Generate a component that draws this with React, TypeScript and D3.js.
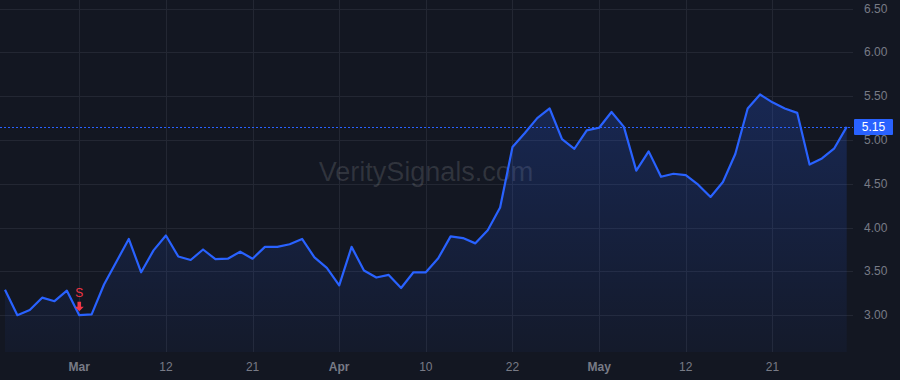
import React from "react";
import * as d3 from "d3";

const W = 900;
const H = 380;

const prices: number[] = [
  3.29, 3.0, 3.06, 3.2, 3.16, 3.28, 3.0, 3.01, 3.35, 3.61,
  3.87, 3.49, 3.74, 3.91, 3.67, 3.63, 3.75, 3.64, 3.645, 3.725,
  3.645, 3.78, 3.78, 3.81, 3.87, 3.66, 3.54, 3.34, 3.78, 3.51,
  3.43, 3.46, 3.31, 3.49, 3.49, 3.65, 3.9, 3.88, 3.82, 3.97,
  4.23, 4.92, 5.08, 5.25, 5.36, 5.01, 4.9, 5.11, 5.14, 5.32,
  5.15, 4.65, 4.87, 4.58, 4.615, 4.6, 4.49, 4.35, 4.52, 4.84,
  5.36, 5.52, 5.43, 5.36, 5.31, 4.72, 4.79, 4.905, 5.15,
];

const xTickIndex: number[] = [6, 13, 20, 27, 34, 41, 48, 55, 62];
const xTickLabels: string[] = ["Mar", "12", "21", "Apr", "10", "22", "May", "12", "21"];
const xTickBold: boolean[] = [true, false, false, true, false, false, true, false, false];

const yTicks: number[] = [3.0, 3.5, 4.0, 4.5, 5.0, 5.5, 6.0, 6.5];

const signalIndex: number[] = [6];
const signalLabels: string[] = ["S"];

const lastPrice = prices[prices.length - 1];

export default function App() {
  const plotRight = 853;
  const plotBottom = 352;
  const x = d3.scaleLinear().domain([0, prices.length - 1]).range([5, 846.7]);
  const y = d3.scaleLinear().domain([3, 6.5]).range([315.2, 8.6]);

  const line = d3
    .line<number>()
    .x((_, i) => x(i))
    .y((d) => y(d));
  const area = d3
    .area<number>()
    .x((_, i) => x(i))
    .y0(plotBottom)
    .y1((d) => y(d));

  const font = "'Liberation Sans', Arial, sans-serif";
  const minY = y(d3.max(prices) as number);

  return (
    <svg
      width={W}
      height={H}
      style={{ position: "absolute", left: 0, top: 0, display: "block" }}
    >
      <defs>
        <linearGradient id="fillGrad" gradientUnits="userSpaceOnUse" x1="0" y1={minY} x2="0" y2={plotBottom}>
          <stop offset="0%" stopColor="#2962ff" stopOpacity={0.22} />
          <stop offset="100%" stopColor="#2962ff" stopOpacity={0.04} />
        </linearGradient>
      </defs>
      <rect x={0} y={0} width={W} height={H} fill="#131722" />
      {/* grid */}
      {yTicks.map((t) => (
        <line key={"gy" + t} x1={0} x2={plotRight} y1={Math.round(y(t)) + 0.5} y2={Math.round(y(t)) + 0.5} stroke="#232733" strokeWidth={1} />
      ))}
      {xTickIndex.map((ti) => (
        <line key={"gx" + ti} x1={Math.round(x(ti)) + 0.5} x2={Math.round(x(ti)) + 0.5} y1={0} y2={plotBottom} stroke="#232733" strokeWidth={1} />
      ))}
      {/* watermark */}
      <text x={426} y={181} textAnchor="middle" fontFamily={font} fontSize={27} fill="#ffffff" fillOpacity={0.13}>
        VeritySignals.com
      </text>
      {/* area & line */}
      <path d={area(prices) || ""} fill="url(#fillGrad)" />
      <path d={line(prices) || ""} fill="none" stroke="#2962ff" strokeWidth={2.2} strokeLinejoin="round" />
      {/* last price line */}
      <line x1={0} x2={plotRight} y1={Math.round(y(lastPrice)) + 0.5} y2={Math.round(y(lastPrice)) + 0.5} stroke="#2962ff" strokeWidth={1} strokeDasharray="2 2" />
      {/* signal markers */}
      {signalIndex.map((si, k) => {
        const cx = x(si);
        const top = y(prices[si]) - 8.5;
        return (
          <g key={"s" + si}>
            <text x={cx} y={top - 9.5} textAnchor="middle" fontFamily={font} fontSize={12} fill="#f23645">
              {signalLabels[k]}
            </text>
            <path
              d={`M${cx - 1.8},${top - 5} L${cx + 1.8},${top - 5} L${cx + 1.8},${top} L${cx + 4.5},${top} L${cx},${top + 4.5} L${cx - 4.5},${top} L${cx - 1.8},${top} Z`}
              fill="#f23645"
            />
          </g>
        );
      })}
      {/* y axis labels */}
      {yTicks.map((t) => (
        <text key={"yl" + t} x={864} y={y(t) + 4} fontFamily={font} fontSize={12} fill="#787b86">
          {t.toFixed(2)}
        </text>
      ))}
      {/* price label */}
      <rect x={854} y={Math.round(y(lastPrice)) - 8} width={39} height={16} fill="#2962ff" rx={1} />
      <text x={873.5} y={y(lastPrice) + 4.5} textAnchor="middle" fontFamily={font} fontSize={12} fill="#ffffff">
        {lastPrice.toFixed(2)}
      </text>
      {/* x axis labels */}
      {xTickIndex.map((ti, k) => (
        <text
          key={"xl" + ti}
          x={x(ti)}
          y={371}
          textAnchor="middle"
          fontFamily={font}
          fontSize={12}
          fontWeight={xTickBold[k] ? "bold" : "normal"}
          fill="#787b86"
        >
          {xTickLabels[k]}
        </text>
      ))}
    </svg>
  );
}
